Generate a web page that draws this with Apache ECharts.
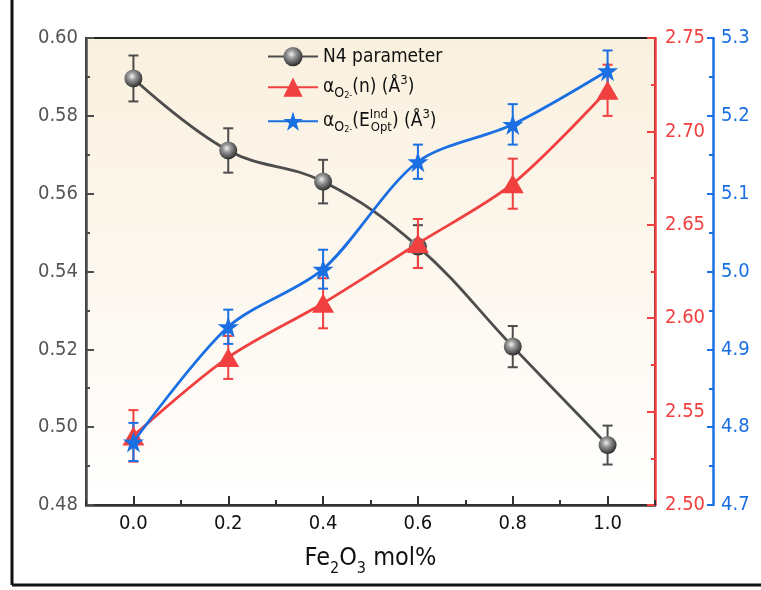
<!DOCTYPE html>
<html>
<head>
<meta charset="utf-8">
<script src="https://cdn.jsdelivr.net/npm/echarts@6/dist/echarts.min.js"></script>
<style>
html,body{margin:0;padding:0;background:#fff;}
#chart{width:761px;height:590px;}
</style>
</head>
<body>
<div id="chart"></div>
<script>
// ---- data ----
const xValues = [0, 0.2, 0.4, 0.6, 0.8, 1.0];
const n4Values = [0.5896, 0.5711, 0.5631, 0.5464, 0.5207, 0.4954];
const n4Err = [0.0059, 0.0057, 0.0056, 0.0055, 0.0053, 0.0050];
const alphaNValues = [2.537, 2.579, 2.608, 2.640, 2.672, 2.722];
const alphaNErr = [0.0138, 0.0115, 0.0134, 0.0131, 0.0134, 0.0137];
const alphaEValues = [4.781, 4.929, 5.003, 5.141, 5.189, 5.258];
const alphaEErr = [0.0245, 0.022, 0.025, 0.022, 0.026, 0.026];
const seriesNames = ['N4 parameter', 'alphaN', 'alphaE'];

const FONT = "'DejaVu Sans Condensed', 'DejaVu Sans', sans-serif";
const GRAY = '#4d4d4d';
const RED = '#F0403F';
const BLUE = '#1A6FE3';

const STAR = 'path://M50,0 L61.8,35.3 L99,35.3 L69,57.3 L80.4,92.7 L50,71 L19.6,92.7 L31,57.3 L1,35.3 L38.2,35.3 Z';

function pairs(xs, ys) { return xs.map((x, i) => [x, ys[i]]); }
function triples(xs, ys, es) { return xs.map((x, i) => [x, ys[i], es[i]]); }

function errorBar(color) {
  return function (params, api) {
    const x = api.value(0), y = api.value(1), e = api.value(2);
    const top = api.coord([x, y + e]);
    const bot = api.coord([x, y - e]);
    const w = 5;
    const st = { stroke: color, lineWidth: 2 };
    return {
      type: 'group',
      children: [
        { type: 'line', shape: { x1: top[0], y1: top[1], x2: bot[0], y2: bot[1] }, style: st },
        { type: 'line', shape: { x1: top[0] - w, y1: top[1], x2: top[0] + w, y2: top[1] }, style: st },
        { type: 'line', shape: { x1: bot[0] - w, y1: bot[1], x2: bot[0] + w, y2: bot[1] }, style: st }
      ]
    };
  };
}

const sphere = {
  type: 'radial', x: 0.42, y: 0.38, r: 0.62,
  colorStops: [
    { offset: 0, color: '#f2f2f2' },
    { offset: 0.35, color: '#9a9a9a' },
    { offset: 1, color: '#2e2e2e' }
  ]
};

const chart = echarts.init(document.getElementById('chart'), null, { renderer: 'canvas' });

const richBase = {
  t: { fontSize: 19, fontFamily: FONT, color: '#111', lineHeight: 26 },
  sub: { fontSize: 14, fontFamily: FONT, color: '#111', lineHeight: 15, verticalAlign: 'bottom' },
  sup2: { fontSize: 9, fontFamily: FONT, color: '#111', lineHeight: 22, verticalAlign: 'bottom' },
  sup: { fontSize: 13, fontFamily: FONT, color: '#111', lineHeight: 14, verticalAlign: 'top' },
  ind: { fontSize: 13, fontFamily: FONT, color: '#111', lineHeight: 14, verticalAlign: 'top', width: 1 },
  opt: { fontSize: 13, fontFamily: FONT, color: '#111', lineHeight: 14, verticalAlign: 'bottom' }
};

const option = {
  animation: false,
  backgroundColor: '#ffffff',
  grid: {
    left: 86, right: 106, top: 38, bottom: 85,
    show: true,
    borderColor: '#222', borderWidth: 2,
    backgroundColor: {
      type: 'linear', x: 0, y: 0, x2: 0, y2: 1,
      colorStops: [
        { offset: 0, color: '#FAF0DE' },
        { offset: 1, color: '#FFFFFF' }
      ]
    }
  },
  legend: {
    orient: 'vertical',
    left: 262, top: 42,
    itemWidth: 50, itemHeight: 24,
    itemGap: 8,
    data: seriesNames,
    textStyle: { rich: richBase, fontFamily: FONT, fontSize: 19, color: '#111' },
    formatter: function (name) {
      if (name === 'N4 parameter') return '{t|N4 parameter}';
      if (name === 'alphaN') return '{t|α}{sub|O}{sup2|2-}{t|(n) (Å}{sup|3}{t|)}';
      return '{t|α}{sub|O}{sup2|2-}{t|(E}{ind|Ind}{opt|Opt}{t|) (Å}{sup|3}{t|)}';
    }
  },
  xAxis: [
    {
      type: 'value', min: -0.1, max: 1.1, interval: 0.1,
      position: 'bottom',
      name: '{m|Fe}{s|2}{m|O}{s|3}{m| mol%}',
      nameLocation: 'middle', nameGap: 38,
      nameTextStyle: {
        rich: {
          m: { fontSize: 25, fontFamily: FONT, color: '#111', lineHeight: 30 },
          s: { fontSize: 16, fontFamily: FONT, color: '#111', lineHeight: 16, verticalAlign: 'bottom', padding: [0, 0, -4, 0] }
        }
      },
      axisLine: { show: true, onZero: false, lineStyle: { color: '#333', width: 2.5 } },
      axisTick: { show: false },
      splitLine: { show: false },
      axisLabel: {
        margin: 9, fontSize: 20, fontFamily: FONT, color: '#111',
        formatter: function (v) {
          const k = Math.round(v * 10);
          if (k < 0 || k > 10 || k % 2 !== 0) return '';
          return (k / 10).toFixed(1);
        }
      }
    },
    {
      type: 'value', min: -0.1, max: 1.1, interval: 0.2,
      position: 'bottom',
      axisLine: { show: false, onZero: false },
      axisLabel: { show: false },
      splitLine: { show: false },
      axisTick: { show: true, inside: true, length: 5, lineStyle: { color: '#333', width: 2 } },
      minorTick: { show: true, splitNumber: 2, length: 9, lineStyle: { color: '#333', width: 2 } }
    }
  ],
  yAxis: [
    {
      type: 'value', min: 0.48, max: 0.60, interval: 0.02, position: 'left',
      axisLine: { show: true, onZero: false, lineStyle: { color: GRAY, width: 2.5 } },
      axisTick: { show: true, inside: true, length: 8, lineStyle: { color: GRAY, width: 2 } },
      minorTick: { show: true, splitNumber: 2, length: 4, lineStyle: { color: GRAY, width: 2 } },
      splitLine: { show: false },
      axisLabel: { margin: 8, fontSize: 20, fontFamily: FONT, color: '#555', formatter: v => v.toFixed(2) }
    },
    {
      type: 'value', min: 2.50, max: 2.75, interval: 0.05, position: 'right', offset: 0,
      axisLine: { show: true, onZero: false, lineStyle: { color: RED, width: 2.5 } },
      axisTick: { show: true, inside: true, length: 8, lineStyle: { color: RED, width: 2 } },
      minorTick: { show: true, splitNumber: 2, length: 4, lineStyle: { color: RED, width: 2 } },
      splitLine: { show: false },
      axisLabel: { margin: 10, fontSize: 20, fontFamily: FONT, color: RED, formatter: v => v.toFixed(2) }
    },
    {
      type: 'value', min: 4.7, max: 5.3, interval: 0.1, position: 'right', offset: 58,
      axisLine: { show: true, onZero: false, lineStyle: { color: BLUE, width: 2.5 } },
      axisTick: { show: true, inside: true, length: 6, lineStyle: { color: BLUE, width: 2 } },
      minorTick: { show: true, splitNumber: 2, length: 4, lineStyle: { color: BLUE, width: 2 } },
      splitLine: { show: false },
      axisLabel: { margin: 8, fontSize: 20, fontFamily: FONT, color: BLUE, formatter: v => v.toFixed(1) }
    }
  ],
  graphic: [
    { type: 'line', shape: { x1: 12, y1: 0, x2: 12, y2: 585 }, style: { stroke: '#111', lineWidth: 3 }, z: 100 },
    { type: 'line', shape: { x1: 12, y1: 585, x2: 761, y2: 585 }, style: { stroke: '#111', lineWidth: 3 }, z: 100 }
  ],
  series: [
    {
      type: 'custom', name: 'n4err', xAxisIndex: 0, yAxisIndex: 0,
      renderItem: errorBar(GRAY), data: triples(xValues, n4Values, n4Err), z: 2, silent: true
    },
    {
      type: 'custom', name: 'aNerr', xAxisIndex: 0, yAxisIndex: 1,
      renderItem: errorBar(RED), data: triples(xValues, alphaNValues, alphaNErr), z: 2, silent: true
    },
    {
      type: 'custom', name: 'aEerr', xAxisIndex: 0, yAxisIndex: 2,
      renderItem: errorBar(BLUE), data: triples(xValues, alphaEValues, alphaEErr), z: 2, silent: true
    },
    {
      type: 'line', name: 'N4 parameter', xAxisIndex: 0, yAxisIndex: 0,
      data: pairs(xValues, n4Values), smooth: 0.4,
      symbol: 'circle', symbolSize: 18,
      lineStyle: { color: GRAY, width: 2.8 },
      itemStyle: { color: sphere, borderWidth: 0 },
      z: 3
    },
    {
      type: 'line', name: 'alphaN', xAxisIndex: 0, yAxisIndex: 1,
      data: pairs(xValues, alphaNValues), smooth: 0.3,
      symbol: 'triangle', symbolSize: [22, 19],
      lineStyle: { color: RED, width: 2.8 },
      itemStyle: { color: RED, borderWidth: 0 },
      z: 4
    },
    {
      type: 'line', name: 'alphaE', xAxisIndex: 0, yAxisIndex: 2,
      data: pairs(xValues, alphaEValues), smooth: 0.3,
      symbol: STAR, symbolSize: 21,
      lineStyle: { color: BLUE, width: 2.8 },
      itemStyle: { color: BLUE, borderWidth: 0 },
      z: 5
    }
  ]
};
chart.setOption(option);
</script>
</body>
</html>
